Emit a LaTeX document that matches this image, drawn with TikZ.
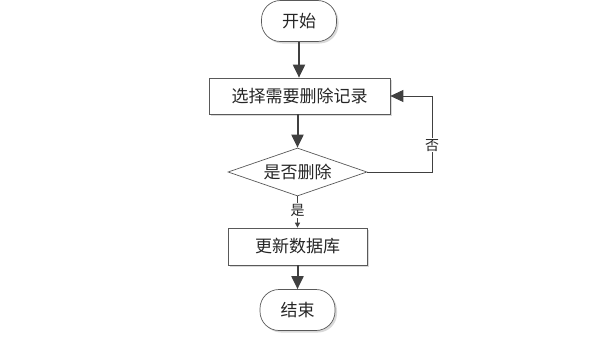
\documentclass[tikz,border=0pt]{standalone}
\usepackage{fontspec}
\setmainfont{Noto Sans CJK SC}
\usetikzlibrary{arrows.meta,shapes.geometric,shadows}
\begin{document}
\begin{tikzpicture}[x=1pt,y=-1pt,
  every node/.style={font=\fontsize{17}{19}\selectfont, text=black!85},
  shd/.style={drop shadow={shadow xshift=2pt,shadow yshift=-2pt,fill=black!25,opacity=0.6}},
  term/.style={draw=black!65,line width=0.7pt,fill=white,rounded corners=19pt,minimum width=75pt,minimum height=41pt,inner sep=0pt,shd},
  procbox/.style={draw=black!65,line width=0.7pt,fill=white,minimum height=36pt,inner sep=0pt,shd},
  decision/.style={draw=black!65,line width=0.7pt,fill=white,diamond,aspect=3,minimum width=139pt,minimum height=48pt,inner sep=0pt},
  flow/.style={draw=black!75,line width=2pt,-{Triangle[length=13pt,width=12pt]}},
  thinflow/.style={draw=black!75,line width=0.8pt,-{Triangle[length=5pt,width=5pt]}},
  loopflow/.style={draw=black!75,line width=0.8pt,-{Triangle[length=13pt,width=12pt]}},
  lbl/.style={fill=white,inner sep=1pt,font=\fontsize{14}{16}\selectfont}
]
\useasboundingbox (0,0) rectangle (590,343);
\node[term] (start) at (299,21) {开始};
\node[procbox,minimum width=181pt] (sel) at (299.5,96) {选择需要删除记录};
\node[decision] (dec) at (297.5,172) {是否删除};
\node[procbox,minimum width=139pt,minimum height=37pt] (upd) at (297.5,246.5) {更新数据库};
\node[term] (end) at (297.5,310) {结束};
\coordinate (c1) at (432,172);
\coordinate (c2) at (432,96);
\draw[flow] (start.south) -- (start.south |- sel.north);
\draw[flow] (sel.south -| dec.north) -- (dec.north);
\draw[thinflow] (dec.south) -- node[lbl,pos=0.45]{是} (upd.north);
\draw[flow] (upd.south) -- (end.north);
\draw[loopflow] (dec.east) -- (c1) -- node[lbl,pos=0.35]{否} (c2) -- (sel.east);
\end{tikzpicture}
\end{document}
